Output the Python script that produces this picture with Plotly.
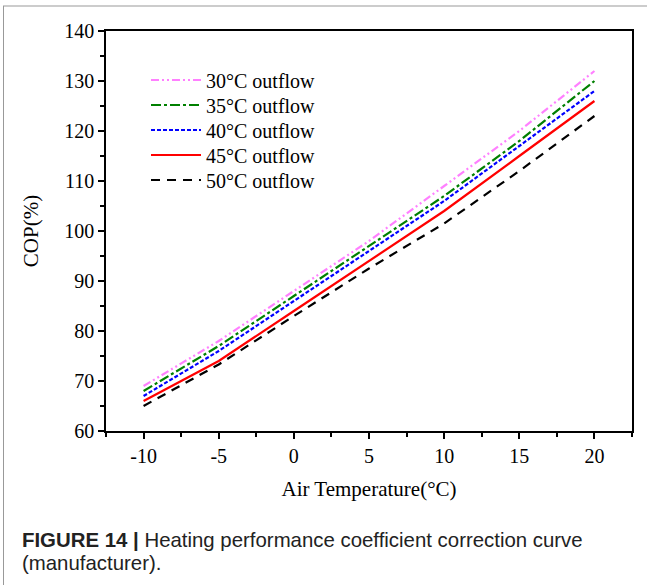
import plotly.graph_objects as go

# Data
air_temp = [-10, -5, 0, 5, 10, 15, 20]
cop_30 = [69, 78, 88, 98, 109, 120, 132]
cop_35 = [68, 77, 87, 97, 107, 118, 130]
cop_40 = [67, 76, 86, 96, 106, 117, 128]
cop_45 = [66, 74, 84, 94, 104, 115, 126]
cop_50 = [65, 73.3, 83, 92.5, 101.5, 112, 123]

series_names = ["30°C outflow", "35°C outflow", "40°C outflow", "45°C outflow", "50°C outflow"]
series_values = [cop_30, cop_35, cop_40, cop_45, cop_50]
series_colors = ["#ff80ff", "#008000", "#0000ff", "#ff0000", "#000000"]
series_dash = ["8px,3px,2px,3px,2px,3px", "10px,3px,3px,3px", "4px,2px", "solid", "9px,7px"]

x_tick_vals = [-10, -5, 0, 5, 10, 15, 20]
x_tick_text = ["-10", "-5", "0", "5", "10", "15", "20"]
y_tick_vals = [60, 70, 80, 90, 100, 110, 120, 130, 140]

serif = "Liberation Serif, Times New Roman, serif"
sans = "Liberation Sans, Arial, sans-serif"

L, R, T, B = 106, 15, 31, 154
W, H = 647, 585
pw = W - L - R
ph = H - T - B

def px_x(px):
    return (px - L) / pw

def px_y(py):
    return (H - B - py) / ph

fig = go.Figure()
legend_keys = ["legend", "legend2", "legend3", "legend4", "legend5"]
for name, vals, col, dash, lk in zip(series_names, series_values, series_colors, series_dash, legend_keys):
    fig.add_trace(go.Scatter(
        x=air_temp, y=vals, mode="lines", name=name, legend=lk,
        line=dict(color=col, width=2.2, dash=dash),
    ))

legend_layout = {}
for i, lk in enumerate(legend_keys):
    legend_layout[lk] = dict(
        x=px_x(146), y=px_y(80 + 25 * i), xanchor="left", yanchor="middle",
        bgcolor="rgba(0,0,0,0)", borderwidth=0,
        font=dict(family=serif, size=20, color="black"),
        itemwidth=50,
    )

axis_common = dict(
    showline=True, linecolor="black", linewidth=1.5, mirror=True,
    ticks="outside", ticklen=6, tickwidth=1.5, tickcolor="black",
    showgrid=False, zeroline=False,
    tickfont=dict(family=serif, size=20, color="black"),
)

fig.update_layout(
    width=W, height=H,
    margin=dict(l=L, r=R, t=T, b=B),
    paper_bgcolor="white", plot_bgcolor="white",
    showlegend=True,
    xaxis=dict(
        range=[-12.5, 22.5], tickvals=x_tick_vals, ticktext=x_tick_text,
        minor=dict(dtick=2.5, tick0=-12.5, ticks="outside", ticklen=4, tickwidth=1.5, tickcolor="black"),
        title=dict(text="Air Temperature(°C)", font=dict(family=serif, size=21, color="black"), standoff=16),
        **axis_common,
    ),
    yaxis=dict(
        range=[60, 140], tickvals=y_tick_vals,
        minor=dict(dtick=5, ticks="outside", ticklen=4, tickwidth=1.5, tickcolor="black"),
        title=dict(text="COP(%)", font=dict(family=serif, size=21, color="black"), standoff=20),
        **axis_common,
    ),
    **legend_layout,
)

# Figure frame lines (top and left)
fig.add_shape(type="line", xref="paper", yref="paper",
              x0=px_x(3), x1=px_x(650), y0=px_y(6), y1=px_y(6),
              line=dict(color="#999999", width=1))
fig.add_shape(type="line", xref="paper", yref="paper",
              x0=px_x(3.5), x1=px_x(3.5), y0=px_y(6), y1=px_y(590),
              line=dict(color="#999999", width=1))

fig.add_annotation(
    xref="paper", yref="paper", x=px_x(20), y=px_y(540), xanchor="left", yanchor="middle",
    text="<b>FIGURE 14 |</b> Heating performance coefficient correction curve",
    showarrow=False, align="left",
    font=dict(family=sans, size=20.4, color="#222222"),
)
fig.add_annotation(
    xref="paper", yref="paper", x=px_x(20), y=px_y(563), xanchor="left", yanchor="middle",
    text="(manufacturer).",
    showarrow=False, align="left",
    font=dict(family=sans, size=20.4, color="#222222"),
)

fig.write_html("out.html")
